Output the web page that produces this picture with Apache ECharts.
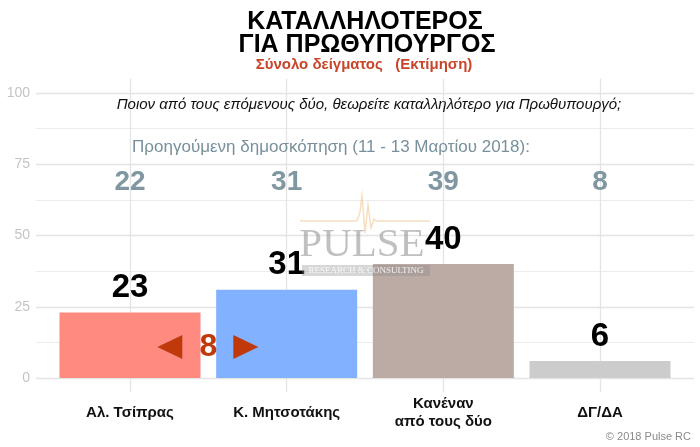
<!DOCTYPE html>
<html><head><meta charset="utf-8">
<script src="https://cdn.jsdelivr.net/npm/echarts@6/dist/echarts.min.js"></script>
<style>html,body{margin:0;padding:0;background:#fff}#c{width:700px;height:447px}</style>
</head><body><div id="c"></div>
<script>
var categories = ['Αλ. Τσίπρας', 'Κ. Μητσοτάκης', 'Κανέναν\nαπό τους δύο', 'ΔΓ/ΔΑ'];
var currentValues = [23, 31, 40, 6];
var previousValues = [22, 31, 39, 8];
var barColors = ['#FF8A80', '#82B1FF', '#BCAAA4', '#CCCCCC'];
var yTicks = [0, 25, 50, 75, 100];
var titleLines = ['ΚΑΤΑΛΛΗΛΟΤΕΡΟΣ', 'ΓΙΑ ΠΡΩΘΥΠΟΥΡΓΟΣ'];
var subtitle = 'Σύνολο δείγματος   (Εκτίμηση)';
var questionText = 'Ποιον από τους επόμενους δύο, θεωρείτε καταλληλότερο για Πρωθυπουργό;';
var previousLabel = 'Προηγούμενη δημοσκόπηση (11 - 13 Μαρτίου 2018):';
var diffValue = currentValues[1] - currentValues[0];
var previousRowLevel = 68.8;
var diffLevel = 10.9;

var chart = echarts.init(document.getElementById('c'), null, {renderer: 'canvas'});
var font = 'Liberation Sans, Arial, sans-serif';

var option = {
  animation: false,
  grid: [
    {left: 36, right: 6, top: 93, bottom: 69},
    {left: 130, right: 100, top: 78.7, bottom: 54.7}
  ],
  xAxis: [
    {gridIndex: 0, type: 'value', min: 0, max: 1, show: false},
    {gridIndex: 1, type: 'category', data: categories, boundaryGap: false,
     axisLine: {show: false}, axisTick: {show: false},
     splitLine: {show: true, lineStyle: {color: '#e4e4e4', width: 1.3}},
     axisLabel: {color: '#111', fontWeight: 'bold', fontSize: 15, fontFamily: font,
                 margin: 21, verticalAlign: 'middle', lineHeight: 18, interval: 0}}
  ],
  yAxis: [
    {gridIndex: 0, type: 'value', min: 0, max: 100, interval: 25,
     axisLine: {show: false}, axisTick: {show: false},
     axisLabel: {color: '#c4c4c4', fontSize: 14, fontFamily: font, margin: 6,
                 customValues: yTicks},
     splitLine: {show: true, lineStyle: {color: '#e4e4e4', width: 1.3}},
     minorTick: {show: false, splitNumber: 2},
     minorSplitLine: {show: true, lineStyle: {color: '#ececec', width: 1}}},
    {gridIndex: 1, type: 'value', min: -5, max: 105, show: false}
  ],
  series: [
    {type: 'bar', xAxisIndex: 1, yAxisIndex: 1, barWidth: 141, clip: false,
     data: currentValues.map(function (v, i) { return {value: v, itemStyle: {color: barColors[i]}}; }),
     label: {show: true, position: 'top', distance: 8, color: '#000', fontWeight: 'bold',
             fontSize: 33, fontFamily: font}},
    {type: 'scatter', xAxisIndex: 1, yAxisIndex: 1, symbolSize: 1, itemStyle: {color: 'rgba(0,0,0,0)'},
     data: previousValues.map(function (v, i) { return [i, previousRowLevel, v]; }),
     label: {show: true, position: 'inside', color: '#607D8B', fontWeight: 'bold', fontSize: 28,
             fontFamily: font, formatter: function (p) { return String(p.data[2]); }}}
  ]
};
chart.setOption(option);

var p0 = chart.convertToPixel({xAxisIndex: 1, yAxisIndex: 1}, [0, diffLevel]);
var p1 = chart.convertToPixel({xAxisIndex: 1, yAxisIndex: 1}, [1, diffLevel]);
var qY = chart.convertToPixel({yAxisIndex: 0}, 95.8);
var prevY = chart.convertToPixel({yAxisIndex: 0}, 81.1);
var cx = (p0[0] + p1[0]) / 2, cy = p0[1];
var diffColor = '#C0390B';

var logoLine = [[300,221],[357,221],[360,212],[362,196],[365,233],[368,205],[371,228],[374,219],[376,221],[430,221]];

chart.setOption({
  graphic: [
    {type: 'text', x: 365, y: 22, style: {text: titleLines[0], font: 'bold 25px ' + font, fill: '#000', textAlign: 'center', textVerticalAlign: 'middle'}},
    {type: 'text', x: 367, y: 45, style: {text: titleLines[1], font: 'bold 25px ' + font, fill: '#000', textAlign: 'center', textVerticalAlign: 'middle'}},
    {type: 'text', x: 364, y: 65, style: {text: subtitle, font: 'bold 15px ' + font, fill: '#C8452A', textAlign: 'center', textVerticalAlign: 'middle'}},
    {type: 'text', x: 369, y: qY, z: 10, style: {text: questionText, font: 'italic 15px ' + font, fill: '#111', textAlign: 'center', textVerticalAlign: 'middle'}},
    {type: 'text', x: 331, y: prevY, z: 10, style: {text: previousLabel, font: '17px ' + font, fill: '#78909C', textAlign: 'center', textVerticalAlign: 'middle'}},
    {type: 'polygon', z: 10, shape: {points: [[cx - 51, cy], [cx - 26, cy - 12], [cx - 26, cy + 12]]}, style: {fill: diffColor}},
    {type: 'polygon', z: 10, shape: {points: [[cx + 50, cy], [cx + 25, cy - 12], [cx + 25, cy + 12]]}, style: {fill: diffColor}},
    {type: 'text', x: cx, y: cy, z: 10, style: {text: String(diffValue), font: 'bold 32px ' + font, fill: diffColor, textAlign: 'center', textVerticalAlign: 'middle'}},
    {type: 'polyline', z: 20, shape: {points: logoLine}, style: {stroke: 'rgba(240,190,130,0.5)', lineWidth: 1.5, fill: null}},
    {type: 'text', x: 362, y: 245, z: 20, style: {text: 'PULSE', font: '41px Liberation Serif, DejaVu Serif, serif', fill: 'rgba(150,150,150,0.6)', textAlign: 'center', textVerticalAlign: 'middle'}},
    {type: 'rect', z: 19, shape: {x: 302, y: 265, width: 128, height: 11}, style: {fill: 'rgba(140,140,140,0.35)'}},
    {type: 'text', x: 366, y: 271, z: 20, style: {text: 'RESEARCH & CONSULTING', font: '9px Liberation Serif, DejaVu Serif, serif', fill: 'rgba(255,255,255,0.85)', textAlign: 'center', textVerticalAlign: 'middle'}},
    {type: 'text', x: 691, y: 437, z: 10, style: {text: '© 2018 Pulse RC', font: '11px ' + font, fill: '#8a8a8a', textAlign: 'right', textVerticalAlign: 'middle'}}
  ]
});
</script></body></html>
